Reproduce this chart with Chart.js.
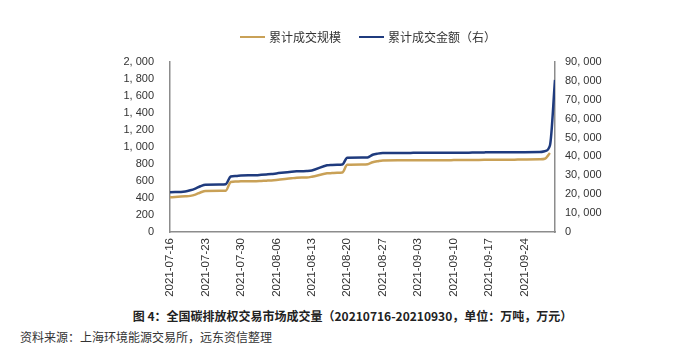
<!DOCTYPE html>
<html>
<head>
<meta charset="utf-8">
<script src="https://cdn.jsdelivr.net/npm/chart.js@4/dist/chart.umd.min.js"></script>
<style>
  body { margin: 0; background: #fff; }
  #wrap { position: relative; width: 685px; height: 359px; font-family: "Noto Sans CJK SC", sans-serif; color: #333; }
  #chart { position: absolute; left: 0; top: 0; }
  .legend { position: absolute; top: 28px; left: 240px; font-size: 12px; display: flex; align-items: center; }
  .legend span.sw { display: inline-block; width: 25px; height: 2px; margin-right: 4px; }
  .legend .item { display: flex; align-items: center; margin-right: 18px; }
  .caption { position: absolute; top: 307px; left: 0; width: 705px; text-align: center; font-size: 12px; font-weight: bold; color: #222; }
  .source { position: absolute; top: 328px; left: 20px; font-size: 12px; color: #333; }
</style>
</head>
<body>
<div id="wrap">
  <canvas id="chart" width="685" height="306"></canvas>
  <div class="legend">
    <div class="item"><span class="sw" style="background:#C9A157"></span>累计成交规模</div>
    <div class="item"><span class="sw" style="background:#1F3B7E"></span>累计成交金额（右）</div>
  </div>
  <div class="caption">图 4：全国碳排放权交易市场成交量（20210716-20210930，单位：万吨，万元）</div>
  <div class="source">资料来源：上海环境能源交易所，远东资信整理</div>
</div>
<script>
// trading days (2021)
const tradeDates = [
  '07-16', '07-19', '07-20', '07-21', '07-22', '07-23', '07-26', '07-27', '07-28', '07-29', '07-30',
  '08-02', '08-03', '08-04', '08-05', '08-06', '08-09', '08-10', '08-11', '08-12', '08-13',
  '08-16', '08-17', '08-18', '08-19', '08-20', '08-23', '08-24', '08-25', '08-26', '08-27',
  '08-30', '08-31', '09-01', '09-02', '09-03', '09-06', '09-07', '09-08', '09-09', '09-10',
  '09-13', '09-14', '09-15', '09-16', '09-17', '09-22', '09-23', '09-24',
  '09-27', '09-28', '09-29', '09-30'
];

// 累计成交规模 (万吨), left axis
const volume = [
  410, 420, 425, 440, 465, 483, 484, 486, 588, 593, 597,
  598, 601, 604, 607, 612, 632, 638, 640, 641, 650,
  690, 693, 696, 699, 790, 793, 797, 820, 833, 842,
  843, 843, 843, 844, 844, 844, 845, 845, 845, 846,
  846, 847, 848, 849, 850, 851, 852, 853,
  856, 862, 930, null
];

// 累计成交金额 (万元), right axis
const amount = [
  21000, 21500, 22100, 23000, 24200, 25000, 25100, 25300, 29400, 29700, 29900,
  30100, 30300, 30500, 30700, 31000, 31900, 32100, 32200, 32300, 32600,
  35300, 35500, 35600, 35700, 39300, 39400, 39500, 40900, 41500, 41800,
  41850, 41850, 41850, 41900, 41900, 41900, 41950, 41950, 41950, 42000,
  42000, 42050, 42100, 42150, 42200, 42200, 42250, 42250,
  42300, 42800, 45800, 80500
];

const leftTicks = [0, 200, 400, 600, 800, 1000, 1200, 1400, 1600, 1800, 2000];
const rightTicks = [0, 10000, 20000, 30000, 40000, 50000, 60000, 70000, 80000, 90000];

const DAY = 86400000;
const start = Date.UTC(2021, 6, 16);
const dayIndex = d => Math.round((Date.UTC(2021, +d.slice(0, 2) - 1, +d.slice(3)) - start) / DAY);
const dayLabel = i => new Date(start + i * DAY).toISOString().slice(0, 10);

const fmt = v => {
  const s = String(v);
  return s.length > 3 ? s.slice(0, -3) + ', ' + s.slice(-3) : s;
};

const tickFont = { family: 'Liberation Sans, Arial, sans-serif', size: 11 };
const axisColor = '#8c8c8c';

const ctx = document.getElementById('chart').getContext('2d');
const chart = new Chart(ctx, {
  type: 'line',
  data: {
    datasets: [
      {
        label: '累计成交规模',
        data: tradeDates.map((d, i) => ({ x: dayIndex(d), y: volume[i] })),
        borderColor: '#C9A157',
        borderWidth: 2.5,
        pointRadius: 0,
        cubicInterpolationMode: 'monotone',
        yAxisID: 'y',
      },
      {
        label: '累计成交金额（右）',
        data: tradeDates.map((d, i) => ({ x: dayIndex(d), y: amount[i] })),
        borderColor: '#1F3B7E',
        borderWidth: 2.5,
        pointRadius: 0,
        cubicInterpolationMode: 'monotone',
        yAxisID: 'y1',
      },
    ],
  },
  options: {
    responsive: false,
    animation: false,
    layout: { padding: { top: 62, bottom: 0, left: 0, right: 0 } },
    plugins: { legend: { display: false }, tooltip: { enabled: false } },
    scales: {
      x: {
        type: 'linear',
        min: 0,
        max: 76,
        afterBuildTicks: s => { s.ticks = s.ticks.filter(t => t.value % 7 === 0 && t.value <= 70); },
        afterFit: s => { s.height = 74; },
        ticks: {
          stepSize: 7,
          minRotation: 90,
          maxRotation: 90,
          padding: 6,
          font: { family: 'Liberation Sans, Arial, sans-serif', size: 11.5 },
          color: '#333',
          callback: v => dayLabel(v),
        },
        grid: { display: false, drawTicks: false },
        border: { color: axisColor, width: 1.5 },
      },
      y: {
        position: 'left',
        min: 0,
        max: 2000,
        afterBuildTicks: s => { s.ticks = leftTicks.map(v => ({ value: v })); },
        afterFit: s => { s.width = 170; },
        ticks: { padding: 16, font: tickFont, color: '#333', callback: v => fmt(v) },
        grid: { display: false, drawTicks: false },
        border: { color: axisColor, width: 1.5 },
      },
      y1: {
        position: 'right',
        min: 0,
        max: 90000,
        afterBuildTicks: s => { s.ticks = rightTicks.map(v => ({ value: v })); },
        afterFit: s => { s.width = 130; },
        ticks: { padding: 10, font: tickFont, color: '#333', callback: v => fmt(v) },
        grid: { display: false, drawTicks: false },
        border: { color: axisColor, width: 1.5 },
      },
    },
  },
});
</script>
</body>
</html>
